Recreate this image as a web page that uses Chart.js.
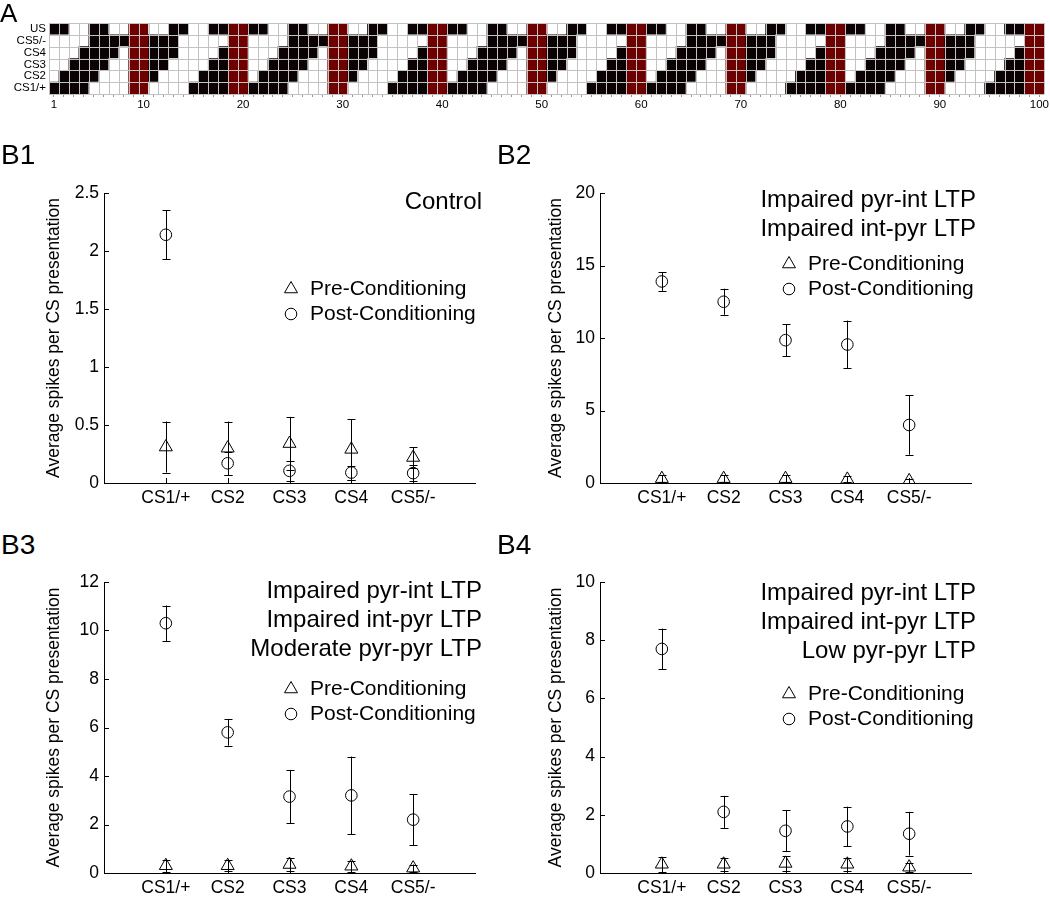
<!DOCTYPE html>
<html>
<head>
<meta charset="utf-8">
<script src="https://cdn.jsdelivr.net/npm/chart.js@4.4.0/dist/chart.umd.min.js"></script>
<style>
  html, body { margin: 0; padding: 0; background: #fff; width: 1050px; height: 897px; overflow: hidden; }
  body { position: relative; font-family: "Liberation Sans", Arial, sans-serif; color: #000; }
  canvas { position: absolute; }
  .tag { position: absolute; font-size: 28px; line-height: 1; z-index: 2; }
  .note { position: absolute; font-size: 24px; line-height: 29px; text-align: right; white-space: nowrap; z-index: 2; }
</style>
</head>
<body>
<div class="tag" style="left:0px;top:0px;font-size:26px">A</div>
<div class="tag" style="left:1px;top:141px">B1</div>
<div class="tag" style="left:497px;top:141px">B2</div>
<div class="tag" style="left:1px;top:531px">B3</div>
<div class="tag" style="left:497px;top:531px">B4</div>

<div class="note" style="right:568px;top:186px">Control</div>
<div class="note" style="right:74px;top:184px">Impaired pyr-int LTP<br>Impaired int-pyr LTP</div>
<div class="note" style="right:568px;top:575px">Impaired pyr-int LTP<br>Impaired int-pyr LTP<br>Moderate pyr-pyr LTP</div>
<div class="note" style="right:74px;top:577px">Impaired pyr-int LTP<br>Impaired int-pyr LTP<br>Low pyr-pyr LTP</div>

<canvas id="gridA" width="1050" height="112" style="left:0;top:0"></canvas>
<canvas id="b1" width="470" height="360" style="left:40px;top:163px"></canvas>
<canvas id="b2" width="470" height="360" style="left:542px;top:163px"></canvas>
<canvas id="b3" width="470" height="345" style="left:40px;top:552px"></canvas>
<canvas id="b4" width="470" height="345" style="left:542px;top:552px"></canvas>

<script>
Chart.defaults.font.family = '"Liberation Sans", Arial, sans-serif';
Chart.defaults.color = '#000';

// ---- A: stimulus schedule, one string per row (B = on, W = off, R = red block) ----
const stepLabels = Array.from({ length: 100 }, (_, i) => String(i + 1));
const stepTicksShown = ['1', '10', '20', '30', '40', '50', '60', '70', '80', '90', '100'];
const rowNames = ['CS1/+', 'CS2', 'CS3', 'CS4', 'CS5/-', 'US']; // bottom to top
const cs1Cells = 'BBBBWWWWRRWWWWBBBBRRBBBBWWWWRRWWWWBBBBRRBBBBWWWWRRWWWWBBBBRRBBBBWWWWRRWWWWBBBBRRBBBBWWWWRRWWWWBBBBRR';
const cs2Cells = 'WBBBBWWWRRBWWWWBBBRRWBBBBWWWRRBWWWWBBBRRWBBBBWWWRRBWWWWBBBRRWBBBBWWWRRBWWWWBBBRRWBBBBWWWRRBWWWWBBBRR';
const cs3Cells = 'WWBBBBWWRRBBWWWWBBRRWWBBBBWWRRBBWWWWBBRRWWBBBBWWRRBBWWWWBBRRWWBBBBWWRRBBWWWWBBRRWWBBBBWWRRBBWWWWBBRR';
const cs4Cells = 'WWWBBBBWRRBBBWWWWBRRWWWBBBBWRRBBBWWWWBRRWWWBBBBWRRBBBWWWWBRRWWWBBBBWRRBBBWWWWBRRWWWBBBBWRRBBBWWWWBRR';
const cs5Cells = 'WWWWBBBBRRBBBWWWWWRRWWWWBBBBRRBBBWWWWWRRWWWWBBBBRRBBBWWWWWRRWWWWBBBBRRBBBWWWWWRRWWWWBBBBRRBBBWWWWWRR';
const usCells  = 'BBWWBBWWRRWWBBWWBBRRBBWWBBWWRRWWBBWWBBRRBBWWBBWWRRWWBBWWBBRRBBWWBBWWRRWWBBWWBBRRBBWWBBWWRRWWBBWWBBRR';
const rowCells = [cs1Cells, cs2Cells, cs3Cells, cs4Cells, cs5Cells, usCells];
const cellColour = { B: '#0a0203', W: '#ffffff', R: '#6e0000' };

// ---- B: average spikes per CS presentation ----
const csLabels = ['CS1/+', 'CS2', 'CS3', 'CS4', 'CS5/-'];

const b1PreMean  = [0.31, 0.30, 0.34, 0.29, 0.22];
const b1PreErr   = [0.22, 0.23, 0.23, 0.26, 0.09];
const b1PostMean = [2.14, 0.17, 0.105, 0.09, 0.085];
const b1PostErr  = [0.21, 0.10, 0.085, 0.06, 0.07];

const b2PreMean  = [0.30, 0.30, 0.30, 0.25, 0.15];
const b2PreErr   = [0.25, 0.22, 0.22, 0.20, 0.15];
const b2PostMean = [13.9, 12.5, 9.85, 9.55, 4.0];
const b2PostErr  = [0.65, 0.9, 1.1, 1.65, 2.05];

const b3PreMean  = [0.30, 0.30, 0.35, 0.28, 0.20];
const b3PreErr   = [0.25, 0.22, 0.25, 0.22, 0.15];
const b3PostMean = [10.3, 5.8, 3.15, 3.2, 2.2];
const b3PostErr  = [0.73, 0.55, 1.1, 1.6, 1.05];

const b4PreMean  = [0.30, 0.30, 0.33, 0.30, 0.20];
const b4PreErr   = [0.25, 0.22, 0.25, 0.22, 0.15];
const b4PostMean = [7.7, 2.1, 1.45, 1.6, 1.35];
const b4PostErr  = [0.7, 0.55, 0.7, 0.68, 0.75];

// grey lines over the schedule cells
const cellLines = {
  id: 'cellLines',
  afterDatasetsDraw(chart) {
    const { ctx, chartArea: a, scales: { y } } = chart;
    const n = chart.data.labels.length;
    ctx.save();
    ctx.strokeStyle = '#c2c2c2';
    ctx.lineWidth = 1;
    ctx.beginPath();
    for (let i = 0; i <= n; i++) {
      const px = Math.round(a.left + (a.right - a.left) * i / n) + 0.5;
      ctx.moveTo(px, a.top);
      ctx.lineTo(px, a.bottom);
    }
    for (let r = 0; r <= rowNames.length; r++) {
      const py = Math.round(y.getPixelForValue(r)) + 0.5;
      ctx.moveTo(a.left, py);
      ctx.lineTo(a.right, py);
    }
    ctx.stroke();
    ctx.restore();
  }
};

new Chart(document.getElementById('gridA'), {
  type: 'bar',
  data: {
    labels: stepLabels,
    datasets: rowCells.map((cells, r) => ({
      label: rowNames[r],
      data: stepLabels.map(() => 1),
      backgroundColor: cells.split('').map(c => cellColour[c]),
      borderWidth: 0,
      barPercentage: 1,
      categoryPercentage: 1
    }))
  },
  options: {
    responsive: false,
    animation: false,
    layout: { padding: { top: 23, right: 5, left: 0, bottom: 0 } },
    plugins: { legend: { display: false }, tooltip: { enabled: false } },
    scales: {
      x: {
        stacked: true,
        grid: { display: true, drawOnChartArea: false, offset: false, tickLength: 3, color: '#999' },
        border: { display: false },
        ticks: {
          autoSkip: false, maxRotation: 0, padding: 1, font: { size: 11.5 },
          callback(v, i) { const l = stepLabels[i]; return stepTicksShown.includes(l) ? l : ''; }
        },
        afterFit(s) { s.height = 18; }
      },
      y: {
        stacked: true, min: 0, max: 6,
        grid: { display: false, drawTicks: false },
        border: { display: false },
        afterBuildTicks(s) { s.ticks = rowNames.map((_, i) => ({ value: i + 0.5 })); },
        ticks: { autoSkip: false, padding: 3, font: { size: 11.5 }, callback(v) { return rowNames[Math.floor(v)]; } },
        afterFit(s) { s.width = 49; }
      }
    }
  },
  plugins: [cellLines]
});

function drawMarker(ctx, style, x, y, r) {
  ctx.beginPath();
  if (style === 'triangle') {
    let rad = 0;
    ctx.moveTo(x + Math.sin(rad) * r, y - Math.cos(rad) * r);
    rad += Math.PI * 2 / 3;
    ctx.lineTo(x + Math.sin(rad) * r, y - Math.cos(rad) * r);
    rad += Math.PI * 2 / 3;
    ctx.lineTo(x + Math.sin(rad) * r, y - Math.cos(rad) * r);
    ctx.closePath();
  } else {
    ctx.arc(x, y, r, 0, Math.PI * 2);
  }
  ctx.stroke();
}

// error bars with caps, under the markers
const errorBars = {
  id: 'errorBars',
  beforeDatasetsDraw(chart) {
    const { ctx, scales: { x, y } } = chart;
    ctx.save();
    ctx.strokeStyle = '#000';
    ctx.lineWidth = 1;
    chart.data.datasets.forEach(ds => {
      ds.data.forEach((p, i) => {
        const e = ds.errors[i];
        const px = Math.round(x.getPixelForValue(p.x)) + 0.5;
        const top = y.getPixelForValue(p.y + e);
        const bot = y.getPixelForValue(Math.max(0, p.y - e));
        ctx.beginPath();
        ctx.moveTo(px, top); ctx.lineTo(px, bot);
        ctx.moveTo(px - 4, Math.round(top) + 0.5); ctx.lineTo(px + 4, Math.round(top) + 0.5);
        ctx.moveTo(px - 4, Math.round(bot) + 0.5); ctx.lineTo(px + 4, Math.round(bot) + 0.5);
        ctx.stroke();
      });
    });
    ctx.restore();
  }
};

// MATLAB-like inward tick marks
const inwardTicks = {
  id: 'inwardTicks',
  afterDraw(chart) {
    const { ctx, chartArea: a, scales: { x, y } } = chart;
    ctx.save();
    ctx.strokeStyle = '#000';
    ctx.lineWidth = 1;
    ctx.beginPath();
    y.ticks.forEach(t => {
      const py = Math.round(y.getPixelForValue(t.value)) + 0.5;
      ctx.moveTo(a.left, py); ctx.lineTo(a.left + 5, py);
    });
    x.ticks.forEach(t => {
      const px = Math.round(x.getPixelForValue(t.value)) + 0.5;
      ctx.moveTo(px, a.bottom); ctx.lineTo(px, a.bottom - 5);
    });
    ctx.stroke();
    ctx.restore();
  }
};

// legend box inside the plot
const markerLegend = {
  id: 'markerLegend',
  afterDraw(chart, args, opts) {
    const { ctx, chartArea: a } = chart;
    ctx.save();
    ctx.strokeStyle = '#000';
    ctx.lineWidth = 1;
    ctx.fillStyle = '#000';
    ctx.font = '21px "Liberation Sans", Arial, sans-serif';
    ctx.textBaseline = 'middle';
    chart.data.datasets.forEach((ds, i) => {
      const lx = a.left + opts.dx;
      const ly = a.top + opts.dy + i * 25;
      drawMarker(ctx, ds.pointStyle, lx, ly, ds.pointRadius);
      ctx.fillText(ds.label, lx + 19, ly);
    });
    ctx.restore();
  }
};

const panels = [
  { id: 'b1', pre: b1PreMean, preErr: b1PreErr, post: b1PostMean, postErr: b1PostErr, yMax: 2.5, yStep: 0.5, yWidth: 64, padRight: 35, xHeight: 40, dx: 187, dy: 96 },
  { id: 'b2', pre: b2PreMean, preErr: b2PreErr, post: b2PostMean, postErr: b2PostErr, yMax: 20, yStep: 5, yWidth: 58, padRight: 41, xHeight: 40, dx: 189, dy: 71 },
  { id: 'b3', pre: b3PreMean, preErr: b3PreErr, post: b3PostMean, postErr: b3PostErr, yMax: 12, yStep: 2, yWidth: 64, padRight: 35, xHeight: 24, dx: 187, dy: 107 },
  { id: 'b4', pre: b4PreMean, preErr: b4PreErr, post: b4PostMean, postErr: b4PostErr, yMax: 10, yStep: 2, yWidth: 58, padRight: 41, xHeight: 24, dx: 189, dy: 112 }
];

panels.forEach(p => {
  new Chart(document.getElementById(p.id), {
    type: 'scatter',
    data: {
      datasets: [
        {
          label: 'Pre-Conditioning',
          data: p.pre.map((v, i) => ({ x: i + 1, y: v })),
          errors: p.preErr,
          pointStyle: 'triangle', pointRadius: 7.5,
          borderColor: '#000', backgroundColor: 'rgba(0,0,0,0)', borderWidth: 1
        },
        {
          label: 'Post-Conditioning',
          data: p.post.map((v, i) => ({ x: i + 1, y: v })),
          errors: p.postErr,
          pointStyle: 'circle', pointRadius: 5.8,
          borderColor: '#000', backgroundColor: 'rgba(0,0,0,0)', borderWidth: 1
        }
      ]
    },
    options: {
      responsive: false,
      animation: false,
      layout: { padding: { top: 30, right: p.padRight, left: 0, bottom: 0 } },
      plugins: {
        legend: { display: false },
        tooltip: { enabled: false },
        markerLegend: { dx: p.dx, dy: p.dy }
      },
      scales: {
        x: {
          type: 'linear', min: 0, max: 6,
          grid: { display: false, drawTicks: false },
          border: { display: true, color: '#000', width: 1 },
          afterBuildTicks(s) { s.ticks = csLabels.map((_, i) => ({ value: i + 1 })); },
          ticks: { autoSkip: false, maxRotation: 0, padding: 5, font: { size: 17.5 }, callback(v) { return csLabels[v - 1]; } },
          afterFit(s) { s.height = p.xHeight; }
        },
        y: {
          min: 0, max: p.yMax,
          grid: { display: false, drawTicks: false },
          border: { display: true, color: '#000', width: 1 },
          ticks: { stepSize: p.yStep, padding: 5, font: { size: 17.5 }, callback(v) { return String(+v.toFixed(2)); } },
          title: { display: true, text: 'Average spikes per CS presentation', font: { size: 17.5 }, padding: { top: 4, bottom: 4 } },
          afterFit(s) { s.width = p.yWidth; }
        }
      }
    },
    plugins: [errorBars, inwardTicks, markerLegend]
  });
});
</script>
</body>
</html>
